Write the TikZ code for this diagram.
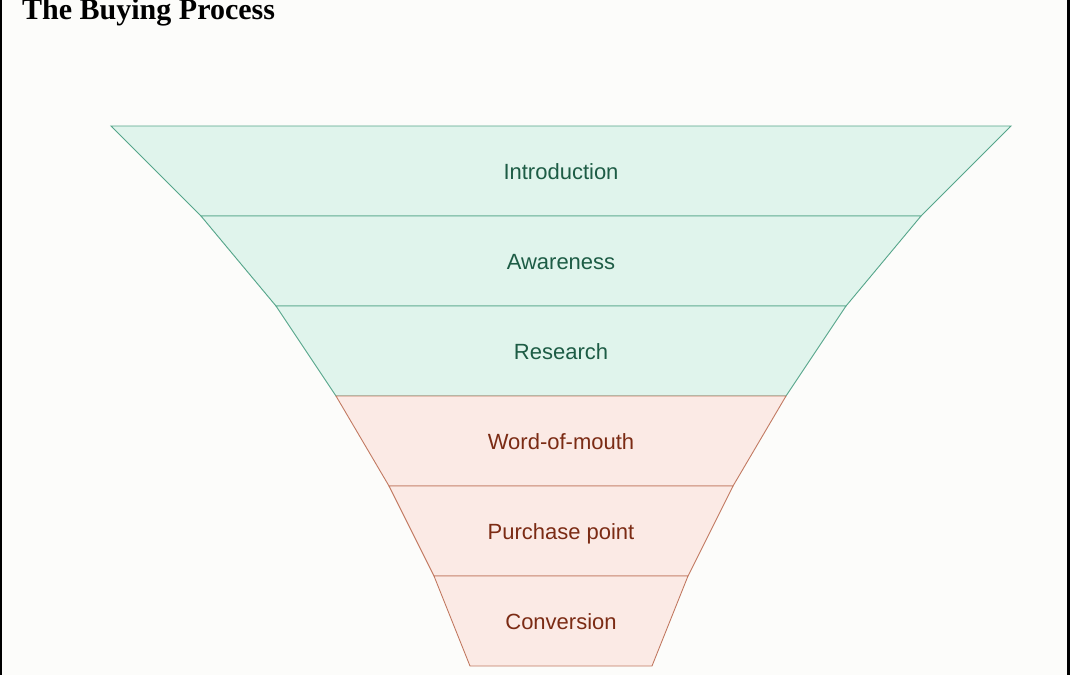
\documentclass[tikz,border=0pt]{standalone}
\usepackage{fontspec}
\setmainfont{Liberation Sans}
\newfontfamily\titlefont{Liberation Serif}
\usetikzlibrary{positioning,calc}
\definecolor{paper}{HTML}{FCFCFA}
\definecolor{greenfill}{HTML}{E0F4EC}
\definecolor{greenline}{HTML}{55A58A}
\definecolor{greentext}{HTML}{1D5C45}
\definecolor{pinkfill}{HTML}{FBEAE5}
\definecolor{pinkline}{HTML}{C27A62}
\definecolor{pinktext}{HTML}{7B2B14}
\tikzset{
  stage/.style={line width=0.9pt, line join=miter},
  stagelabel/.style={anchor=base, inner sep=0pt, font=\fontsize{22}{26}\selectfont},
}

\begin{document}
\begin{tikzpicture}[x=1pt, y=-1pt]
        \useasboundingbox (0,0) rectangle (1070,675);
        \fill[paper] (0,0) rectangle (1070,675);
        \fill[black] (0,0) rectangle (2,675);
        \fill[black] (1067,0) rectangle (1070,675);
        \node[anchor=base west, inner sep=0pt, font=\titlefont\bfseries\fontsize{30}{33}\selectfont] (title) at (22,19) {The Buying Process};
        % funnel, one band per stage (top half-width / bottom half-width)
        \foreach \i/\tw/\bw/\lab/\kind in {0/450/360/Introduction/green, 1/360/285/Awareness/green, 2/285/225/Research/green, 3/225/172/Word-of-mouth/pink, 4/172/127/Purchase point/pink, 5/127/91/Conversion/pink} {
          \pgfmathsetmacro{\ytop}{126+90*\i}
          \pgfmathsetmacro{\ybot}{\ytop+90}
          \filldraw[stage, fill=\kind fill, draw=\kind line] (561-\tw,\ytop) -- (561+\tw,\ytop) -- (561+\bw,\ybot) -- (561-\bw,\ybot) -- cycle;
          \node[stagelabel, text=\kind text] (stage\i) at (561,\ytop+53) {\lab};
        }
      \end{tikzpicture}
\end{document}
